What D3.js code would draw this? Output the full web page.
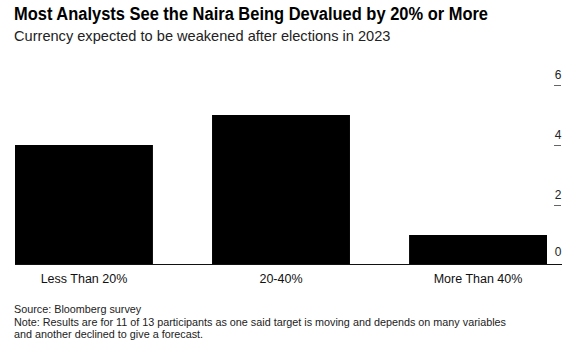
<!DOCTYPE html>
<html>
<head>
<meta charset="utf-8">
<script src="https://cdn.jsdelivr.net/npm/d3@7"></script>
<style>
  html, body { margin: 0; padding: 0; background: #fff; }
  svg { display: block; font-family: "Liberation Sans", Arial, Helvetica, sans-serif; }
</style>
</head>
<body>
<svg id="chart" width="581" height="348"></svg>
<script>
// Survey responses: expected naira devaluation buckets
const categories = ["Less Than 20%", "20-40%", "More Than 40%"];
const counts = [4, 5, 1];
const yTicks = [0, 2, 4, 6];

const title = "Most Analysts See the Naira Being Devalued by 20% or More";
const subtitle = "Currency expected to be weakened after elections in 2023";
const footer = [
  "Source: Bloomberg survey",
  "Note: Results are for 11 of 13 participants as one said target is moving and depends on many variables",
  "and another declined to give a forecast."
];

const svg = d3.select("#chart");

const x = d3.scaleBand()
  .domain(categories)
  .range([15, 547])
  .paddingInner(0.3)
  .paddingOuter(0);

const y = d3.scaleLinear()
  .domain([0, 6])
  .range([265, 85]);

// Header
svg.append("text")
  .attr("x", 14).attr("y", 19.5)
  .attr("font-size", 17.6).attr("font-weight", "bold")
  .attr("fill", "#000")
  .attr("textLength", 474).attr("lengthAdjust", "spacingAndGlyphs")
  .text(title);

svg.append("text")
  .attr("x", 14).attr("y", 41)
  .attr("font-size", 14.6)
  .attr("fill", "#222")
  .text(subtitle);

// Bars
svg.append("g")
  .selectAll("rect")
  .data(categories)
  .join("rect")
  .attr("x", d => x(d))
  .attr("width", x.bandwidth())
  .attr("y", (d, i) => y(counts[i]))
  .attr("height", (d, i) => y(0) - y(counts[i]))
  .attr("fill", "#000");

// Baseline
svg.append("line")
  .attr("x1", 15).attr("x2", 562)
  .attr("y1", y(0) - 0.5).attr("y2", y(0) - 0.5)
  .attr("stroke", "#111").attr("stroke-width", 1);

// Right-side value axis: label sits above a short dash
const yAxis = svg.append("g");
yAxis.selectAll("line")
  .data(yTicks.filter(v => v > 0))
  .join("line")
  .attr("x1", 554).attr("x2", 561)
  .attr("y1", d => Math.round(y(d)) + 0.5)
  .attr("y2", d => Math.round(y(d)) + 0.5)
  .attr("stroke", "#666").attr("stroke-width", 1);

yAxis.selectAll("text")
  .data(yTicks)
  .join("text")
  .attr("x", 558)
  .attr("y", d => y(d) - (d === 0 ? 9 : 6.5))
  .attr("text-anchor", "middle")
  .attr("font-size", 12)
  .attr("fill", "#222")
  .text(d => d);

// Category labels
svg.append("g")
  .selectAll("text")
  .data(categories)
  .join("text")
  .attr("x", d => x(d) + x.bandwidth() / 2)
  .attr("y", 283)
  .attr("text-anchor", "middle")
  .attr("font-size", 12.5)
  .attr("fill", "#111")
  .text(d => d);

// Footer
svg.append("g")
  .selectAll("text")
  .data(footer)
  .join("text")
  .attr("x", 14)
  .attr("y", (d, i) => 313 + i * 12.5)
  .attr("font-size", 10.8)
  .attr("fill", "#222")
  .text(d => d);
</script>
</body>
</html>
